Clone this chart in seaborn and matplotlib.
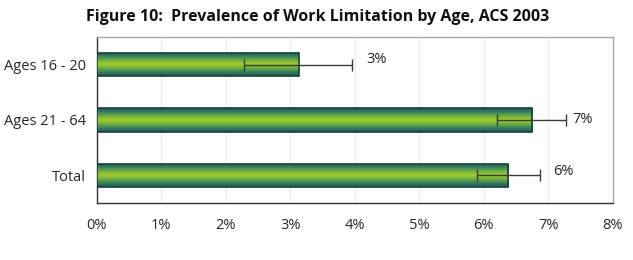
import numpy as np
import pandas as pd
import matplotlib
matplotlib.use("Agg")
import matplotlib.pyplot as plt
from matplotlib.colors import LinearSegmentedColormap
import seaborn as sns

# Datos
grupos = ["Ages 16 - 20", "Ages 21 - 64", "Total"]
prevalencia = [3.13, 6.75, 6.38]
error_bajo = [2.28, 6.21, 5.89]
error_alto = [3.96, 7.28, 6.87]
etiquetas = ["3%", "7%", "6%"]
ticks_x = [0, 1, 2, 3, 4, 5, 6, 7, 8]

# posicion de las etiquetas (en % del eje x)
etiqueta_x = [4.18, 7.37, 7.08]
etiqueta_dy = [-0.1, 0.0, -0.07]

df = pd.DataFrame({"grupo": grupos, "valor": prevalencia})

sns.set_theme(style="white")
plt.rcParams["font.family"] = ["Open Sans", "DejaVu Sans"]

fig = plt.figure(figsize=(6.33, 2.60), dpi=100)
ax = fig.add_axes([0.153, 0.219, 0.815, 0.639])

sns.barplot(data=df, x="valor", y="grupo", orient="h", errorbar=None,
            width=0.42, color="#9acb2a", edgecolor="#17403c", linewidth=1.2,
            ax=ax, zorder=3)

# Relleno degradado dentro de cada barra
cmap = LinearSegmentedColormap.from_list(
    "verde", ["#1b5556", "#347f60", "#6fae40", "#a2cf22",
              "#6fae40", "#347f60", "#1b5556"])
grad = np.linspace(0, 1, 256).reshape(-1, 1)
for barra in ax.patches:
    bb = barra.get_bbox()
    im = ax.imshow(grad, cmap=cmap, aspect="auto", zorder=3.5,
                   extent=[bb.x0, bb.x1, bb.y1, bb.y0], interpolation="bicubic")
    im.set_clip_path(barra)
    barra.set_facecolor("none")
    barra.set_zorder(4)

# Barras de error
y_pos = np.arange(len(grupos))
valores = np.array(prevalencia)
xerr = [valores - np.array(error_bajo), np.array(error_alto) - valores]
ax.errorbar(valores, y_pos, xerr=xerr, fmt="none", ecolor="#3a3a3a",
            elinewidth=1.0, capsize=4, capthick=1.0, zorder=5)

# Etiquetas de porcentaje
for i, txt in enumerate(etiquetas):
    ax.text(etiqueta_x[i], y_pos[i] + etiqueta_dy[i], txt, va="center",
            ha="left", fontsize=10.5, color="#222222")

ax.set_xlim(0, 8)
ax.set_ylim(2.5, -0.5)
ax.set_xticks(ticks_x)
ax.set_xticklabels([f"{t}%" for t in ticks_x], fontsize=10.5)
ax.set_yticks(y_pos)
ax.set_yticklabels(grupos, fontsize=10.5)
ax.set_yticks([-0.5, 0.5, 1.5, 2.5], minor=True)
ax.tick_params(axis="y", which="major", length=0, pad=8)
ax.tick_params(axis="y", which="minor", length=5, width=0.8, color="#333333", direction="out")
ax.tick_params(axis="x", length=5, width=0.8, color="#333333", direction="out", pad=6)
ax.set_xlabel("")
ax.set_ylabel("")

ax.grid(axis="x", color="#ebebeb", linewidth=0.8, zorder=0)
ax.set_axisbelow(True)
for lado in ["top", "right"]:
    ax.spines[lado].set_color("#a8a8a8")
    ax.spines[lado].set_linewidth(1.0)
for lado in ["left", "bottom"]:
    ax.spines[lado].set_color("#333333")
    ax.spines[lado].set_linewidth(1.0)

fig.text(0.502, 0.935, "Figure 10:  Prevalence of Work Limitation by Age, ACS 2003",
         ha="center", va="center", fontsize=11.5, fontweight="bold", color="#111111")

fig.savefig("out.png", dpi=100)
